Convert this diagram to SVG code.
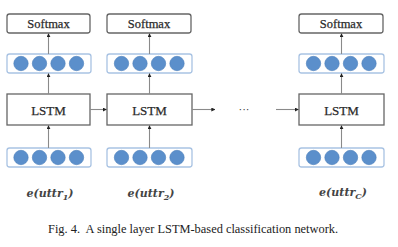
<svg xmlns="http://www.w3.org/2000/svg" width="398" height="247" viewBox="0 0 398 247">
  <style>
    .box { fill: #ffffff; stroke: #666666; stroke-width: 1.3; }
    .vec { fill: #ffffff; stroke: #a9c3e3; stroke-width: 1.3; }
    .dot { fill: #5b8fcb; stroke: #4a7dbb; stroke-width: 0.6; }
    .lbl { font-family: "Liberation Serif", "Times New Roman", serif; fill: #2a2a2a; text-anchor: middle; }
    .soft { font-size: 12.5px; }
    .lstm { font-size: 13px; }
    .emb { font-family: "DejaVu Serif", "Liberation Serif", serif; font-style: italic; font-weight: bold; font-size: 11px; fill: #444444; text-anchor: middle; }
    .cap { font-family: "Liberation Serif", "Times New Roman", serif; font-size: 12.4px; fill: #222222; }
    .link { stroke: #8a8a8a; stroke-width: 1.1; fill: none; marker-end: url(#head); }
  </style>
  <defs>
    <marker id="head" viewBox="0 0 6 6" refX="5.5" refY="3" markerWidth="4" markerHeight="4" orient="auto" markerUnits="userSpaceOnUse">
      <path d="M0,0 L6,3 L0,6 z" fill="#222222"/>
    </marker>
    <g id="vector4">
      <circle class="dot" cx="14" cy="9.5" r="7.2"/>
      <circle class="dot" cx="32.5" cy="9.5" r="7.2"/>
      <circle class="dot" cx="51" cy="9.5" r="7.2"/>
      <circle class="dot" cx="69.5" cy="9.5" r="7.2"/>
    </g>
  </defs>

  <!-- column 1 -->
  <g id="softmax1">
    <rect class="box" x="7" y="14" width="83" height="19" rx="2.5"/>
    <text class="lbl soft" x="48.5" y="28" stroke="#2a2a2a" stroke-width="0.25">Softmax</text>
  </g>
  <g id="hidden1">
    <rect class="vec" x="7" y="54" width="84" height="19" rx="2.5"/>
    <use href="#vector4" x="7" y="54"/>
  </g>
  <g id="lstm1">
    <rect class="box" x="7" y="94" width="83" height="31"/>
    <text class="lbl lstm" x="48.5" y="114.5" stroke="#2a2a2a" stroke-width="0.25">LSTM</text>
  </g>
  <g id="input1">
    <rect class="vec" x="7" y="148" width="84" height="19" rx="2.5"/>
    <use href="#vector4" x="7" y="148"/>
  </g>
  <g id="emb1">
    <text class="emb" x="50" y="197">e(uttr<tspan font-size="8" dy="2.5">1</tspan><tspan dy="-2.5">)</tspan></text>
  </g>

  <!-- column 2 -->
  <g id="softmax2">
    <rect class="box" x="107" y="14" width="84" height="19" rx="2.5"/>
    <text class="lbl soft" x="149" y="28" stroke="#2a2a2a" stroke-width="0.25">Softmax</text>
  </g>
  <g id="hidden2">
    <rect class="vec" x="107" y="54" width="85" height="19" rx="2.5"/>
    <use href="#vector4" x="107.5" y="54"/>
  </g>
  <g id="lstm2">
    <rect class="box" x="107" y="94" width="85" height="31"/>
    <text class="lbl lstm" x="149.5" y="114.5" stroke="#2a2a2a" stroke-width="0.25">LSTM</text>
  </g>
  <g id="input2">
    <rect class="vec" x="107" y="148" width="85" height="19" rx="2.5"/>
    <use href="#vector4" x="107.5" y="148"/>
  </g>
  <g id="emb2">
    <text class="emb" x="151" y="197">e(uttr<tspan font-size="8" dy="2.5">2</tspan><tspan dy="-2.5">)</tspan></text>
  </g>

  <!-- last column -->
  <g id="softmaxC">
    <rect class="box" x="299" y="14" width="84" height="19" rx="2.5"/>
    <text class="lbl soft" x="341" y="28" stroke="#2a2a2a" stroke-width="0.25">Softmax</text>
  </g>
  <g id="hiddenC">
    <rect class="vec" x="299" y="54" width="85" height="19" rx="2.5"/>
    <use href="#vector4" x="299.5" y="54"/>
  </g>
  <g id="lstmC">
    <rect class="box" x="299" y="94" width="85" height="31"/>
    <text class="lbl lstm" x="341.5" y="114.5" stroke="#2a2a2a" stroke-width="0.25">LSTM</text>
  </g>
  <g id="inputC">
    <rect class="vec" x="299" y="148" width="85" height="19" rx="2.5"/>
    <use href="#vector4" x="299.5" y="148"/>
  </g>
  <g id="embC">
    <text class="emb" x="343" y="196">e(uttr<tspan font-size="8" dy="2.5">C</tspan><tspan dy="-2.5">)</tspan></text>
  </g>

  <g id="ellipsis">
    <text class="lbl" x="244" y="113" font-size="11">···</text>
  </g>

  <!-- connectors -->
  <g id="connectors">
    <line class="link" x1="48.5" y1="148" x2="48.5" y2="125.5"/>
    <line class="link" x1="48.5" y1="94" x2="48.5" y2="73.5"/>
    <line class="link" x1="48.5" y1="54" x2="48.5" y2="33.5"/>
    <line class="link" x1="149.5" y1="148" x2="149.5" y2="125.5"/>
    <line class="link" x1="149.5" y1="94" x2="149.5" y2="73.5"/>
    <line class="link" x1="149.5" y1="54" x2="149.5" y2="33.5"/>
    <line class="link" x1="341.5" y1="148" x2="341.5" y2="125.5"/>
    <line class="link" x1="341.5" y1="94" x2="341.5" y2="73.5"/>
    <line class="link" x1="341.5" y1="54" x2="341.5" y2="33.5"/>
    <line class="link" x1="90" y1="109.5" x2="106.5" y2="109.5"/>
    <line class="link" x1="192" y1="109.5" x2="215" y2="109.5"/>
    <line class="link" x1="276" y1="109.5" x2="298.5" y2="109.5"/>
  </g>

  <text class="cap" x="48" y="233" xml:space="preserve">Fig. 4.  A single layer LSTM-based classification network.</text>
</svg>
